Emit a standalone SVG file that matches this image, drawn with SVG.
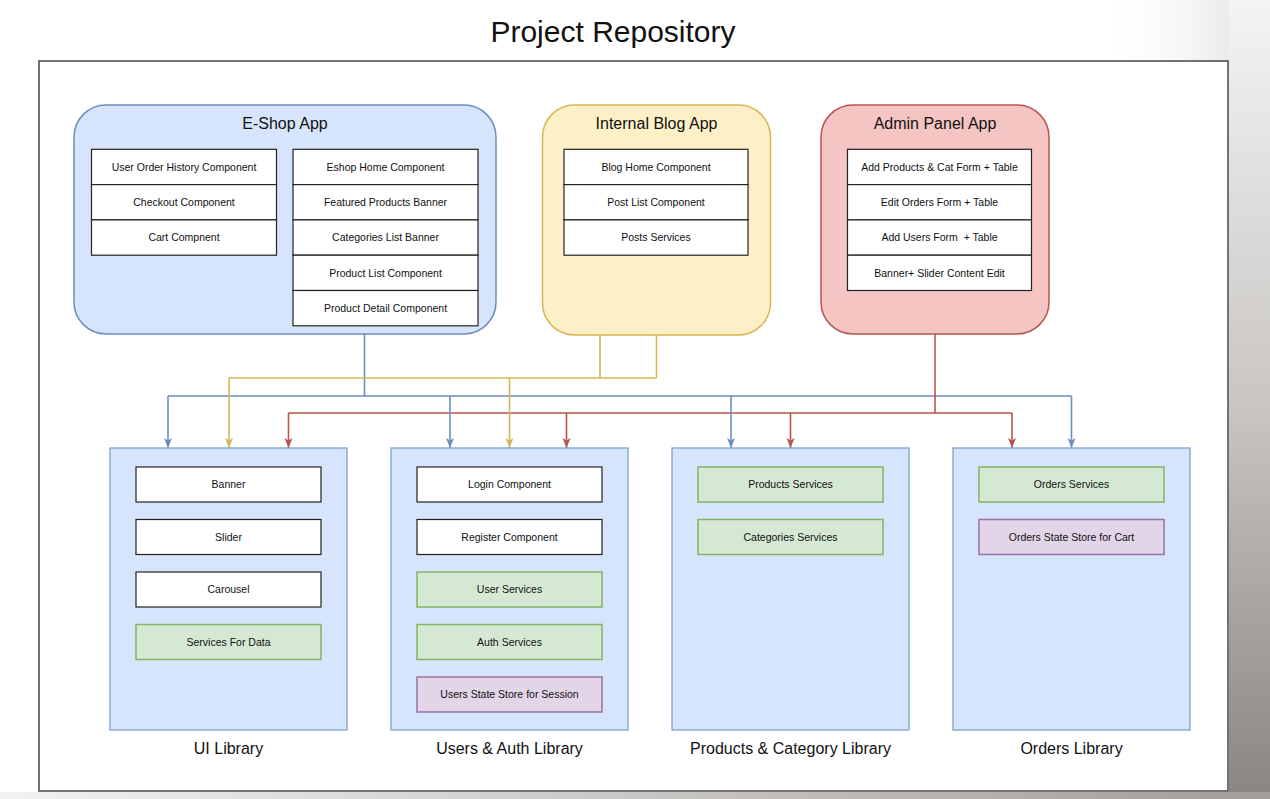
<svg xmlns="http://www.w3.org/2000/svg" width="1270" height="799" viewBox="0 0 1270 799">
<defs>
<linearGradient id="rg" x1="0" y1="0" x2="0" y2="1">
<stop offset="0" stop-color="#f4f4f4"/>
<stop offset="0.5" stop-color="#c9c6c3"/>
<stop offset="1" stop-color="#8a8581"/>
</linearGradient>
<linearGradient id="bg" x1="0" y1="0" x2="1" y2="0">
<stop offset="0" stop-color="#f2f2f2"/>
<stop offset="1" stop-color="#a19d99"/>
</linearGradient>
<linearGradient id="tg" x1="0" y1="0" x2="1" y2="0">
<stop offset="0" stop-color="#ffffff" stop-opacity="0"/>
<stop offset="1" stop-color="#dcdcdc"/>
</linearGradient>
<marker id="ab" viewBox="0 0 10 10" refX="10" refY="5" markerWidth="10" markerHeight="10" markerUnits="userSpaceOnUse" orient="auto"><path d="M0,1 L10,5 L0,9 L2.5,5 z" fill="#6c8ebf"/></marker>
<marker id="ay" viewBox="0 0 10 10" refX="10" refY="5" markerWidth="10" markerHeight="10" markerUnits="userSpaceOnUse" orient="auto"><path d="M0,1 L10,5 L0,9 L2.5,5 z" fill="#d6b656"/></marker>
<marker id="ar" viewBox="0 0 10 10" refX="10" refY="5" markerWidth="10" markerHeight="10" markerUnits="userSpaceOnUse" orient="auto"><path d="M0,1 L10,5 L0,9 L2.5,5 z" fill="#b85450"/></marker>
</defs>
<style>
text{font-family:"Liberation Sans",Arial,Helvetica,sans-serif;fill:#111;text-anchor:middle}
.t{font-size:10.5px}
.h{font-size:16px}
.cell{fill:#ffffff;stroke:#222;stroke-width:1.2}
.grn{fill:#d5e8d4;stroke:#82b366;stroke-width:1.5}
.pur{fill:#e1d5e7;stroke:#9673a6;stroke-width:1.5}
.lib{fill:#d6e5fb;stroke:#7ea1d1;stroke-width:1.3}
.cb{fill:none;stroke:#6c8ebf;stroke-width:1.6}
.cy{fill:none;stroke:#d6b656;stroke-width:1.6}
.cr{fill:none;stroke:#b85450;stroke-width:1.6}
</style>
<rect x="0" y="0" width="1270" height="799" fill="#ffffff"/>
<rect x="1100" y="0" width="170" height="61" fill="url(#tg)"/>
<rect x="1229" y="0" width="41" height="799" fill="url(#rg)"/>
<rect x="0" y="792" width="1270" height="7" fill="url(#bg)"/>
<text x="613" y="42" style="font-size:30px">Project Repository</text>
<rect x="39" y="61" width="1189" height="730" fill="#ffffff" stroke="#444" stroke-width="1.5"/>

<g id="connectors">
<path class="cb" d="M364.5 334 V396 M168 396 H1071.5"/>
<path class="cy" d="M600 335 V378 M656.5 335 V378 M229 378 H656.5"/>
<path class="cr" d="M935 334 V413 M288.5 413 H1012"/>
<path class="cb" d="M168 396 V448" marker-end="url(#ab)"/>
<path class="cb" d="M450 396 V448" marker-end="url(#ab)"/>
<path class="cb" d="M731 396 V448" marker-end="url(#ab)"/>
<path class="cb" d="M1071.5 396 V448" marker-end="url(#ab)"/>
<path class="cy" d="M229 378 V448" marker-end="url(#ay)"/>
<path class="cy" d="M509.5 378 V448" marker-end="url(#ay)"/>
<path class="cr" d="M288.5 413 V448" marker-end="url(#ar)"/>
<path class="cr" d="M566.5 413 V448" marker-end="url(#ar)"/>
<path class="cr" d="M790.5 413 V448" marker-end="url(#ar)"/>
<path class="cr" d="M1012 413 V448" marker-end="url(#ar)"/>
</g>

<g id="eshop">
<rect x="74" y="105" width="422" height="229" rx="32" fill="#d6e5fb" stroke="#6c8ebf" stroke-width="1.5"/>
<text class="h" x="285" y="129">E-Shop App</text>
<rect class="cell" x="91.5" y="149.3" width="185" height="35.3"/>
<rect class="cell" x="91.5" y="184.6" width="185" height="35.3"/>
<rect class="cell" x="91.5" y="219.9" width="185" height="35.3"/>
<text class="t" x="184" y="170.7">User Order History Component</text>
<text class="t" x="184" y="206">Checkout Component</text>
<text class="t" x="184" y="241.3">Cart Compnent</text>
<rect class="cell" x="293" y="149.3" width="185" height="35.3"/>
<rect class="cell" x="293" y="184.6" width="185" height="35.3"/>
<rect class="cell" x="293" y="219.9" width="185" height="35.3"/>
<rect class="cell" x="293" y="255.2" width="185" height="35.3"/>
<rect class="cell" x="293" y="290.5" width="185" height="35.3"/>
<text class="t" x="385.5" y="170.7">Eshop Home Component</text>
<text class="t" x="385.5" y="206">Featured Products Banner</text>
<text class="t" x="385.5" y="241.3">Categories List Banner</text>
<text class="t" x="385.5" y="276.6">Product List Component</text>
<text class="t" x="385.5" y="311.9">Product Detail Component</text>
</g>

<g id="blog">
<rect x="542.5" y="105" width="228" height="230" rx="32" fill="#fdf0c6" stroke="#d6b656" stroke-width="1.5"/>
<text class="h" x="656.5" y="129">Internal Blog App</text>
<rect class="cell" x="564" y="149.3" width="184" height="35.3"/>
<rect class="cell" x="564" y="184.6" width="184" height="35.3"/>
<rect class="cell" x="564" y="219.9" width="184" height="35.3"/>
<text class="t" x="656" y="170.7">Blog Home Component</text>
<text class="t" x="656" y="206">Post List Component</text>
<text class="t" x="656" y="241.3">Posts Services</text>
</g>

<g id="admin">
<rect x="821" y="105" width="228" height="229" rx="32" fill="#f5c5c4" stroke="#b85450" stroke-width="1.5"/>
<text class="h" x="935" y="129">Admin Panel App</text>
<rect class="cell" x="847.5" y="149.3" width="184" height="35.3"/>
<rect class="cell" x="847.5" y="184.6" width="184" height="35.3"/>
<rect class="cell" x="847.5" y="219.9" width="184" height="35.3"/>
<rect class="cell" x="847.5" y="255.2" width="184" height="35.3"/>
<text class="t" x="939.5" y="170.7">Add Products &amp; Cat Form + Table</text>
<text class="t" x="939.5" y="206">Edit Orders Form + Table</text>
<text class="t" x="939.5" y="241.3" xml:space="preserve">Add Users Form  + Table</text>
<text class="t" x="939.5" y="276.6">Banner+ Slider Content Edit</text>
</g>

<g id="ui-library">
<rect class="lib" x="110" y="448" width="237" height="282"/>
<rect class="cell" x="136" y="467" width="185" height="35"/>
<rect class="cell" x="136" y="519.5" width="185" height="35"/>
<rect class="cell" x="136" y="572" width="185" height="35"/>
<rect class="grn" x="136" y="624.5" width="185" height="35"/>
<text class="t" x="228.5" y="488.3">Banner</text>
<text class="t" x="228.5" y="540.8">Slider</text>
<text class="t" x="228.5" y="593.3">Carousel</text>
<text class="t" x="228.5" y="645.8">Services For Data</text>
<text class="h" x="228.5" y="754">UI Library</text>
</g>

<g id="users-auth-library">
<rect class="lib" x="391" y="448" width="237" height="282"/>
<rect class="cell" x="417" y="467" width="185" height="35"/>
<rect class="cell" x="417" y="519.5" width="185" height="35"/>
<rect class="grn" x="417" y="572" width="185" height="35"/>
<rect class="grn" x="417" y="624.5" width="185" height="35"/>
<rect class="pur" x="417" y="677" width="185" height="35"/>
<text class="t" x="509.5" y="488.3">Login Component</text>
<text class="t" x="509.5" y="540.8">Register Component</text>
<text class="t" x="509.5" y="593.3">User Services</text>
<text class="t" x="509.5" y="645.8">Auth Services</text>
<text class="t" x="509.5" y="698.3">Users State Store for Session</text>
<text class="h" x="509.5" y="754">Users &amp; Auth Library</text>
</g>

<g id="products-library">
<rect class="lib" x="672" y="448" width="237" height="282"/>
<rect class="grn" x="698" y="467" width="185" height="35"/>
<rect class="grn" x="698" y="519.5" width="185" height="35"/>
<text class="t" x="790.5" y="488.3">Products Services</text>
<text class="t" x="790.5" y="540.8">Categories Services</text>
<text class="h" x="790.5" y="754">Products &amp; Category Library</text>
</g>

<g id="orders-library">
<rect class="lib" x="953" y="448" width="237" height="282"/>
<rect class="grn" x="979" y="467" width="185" height="35"/>
<rect class="pur" x="979" y="519.5" width="185" height="35"/>
<text class="t" x="1071.5" y="488.3">Orders Services</text>
<text class="t" x="1071.5" y="540.8">Orders State Store for Cart</text>
<text class="h" x="1071.5" y="754">Orders Library</text>
</g>
</svg>
